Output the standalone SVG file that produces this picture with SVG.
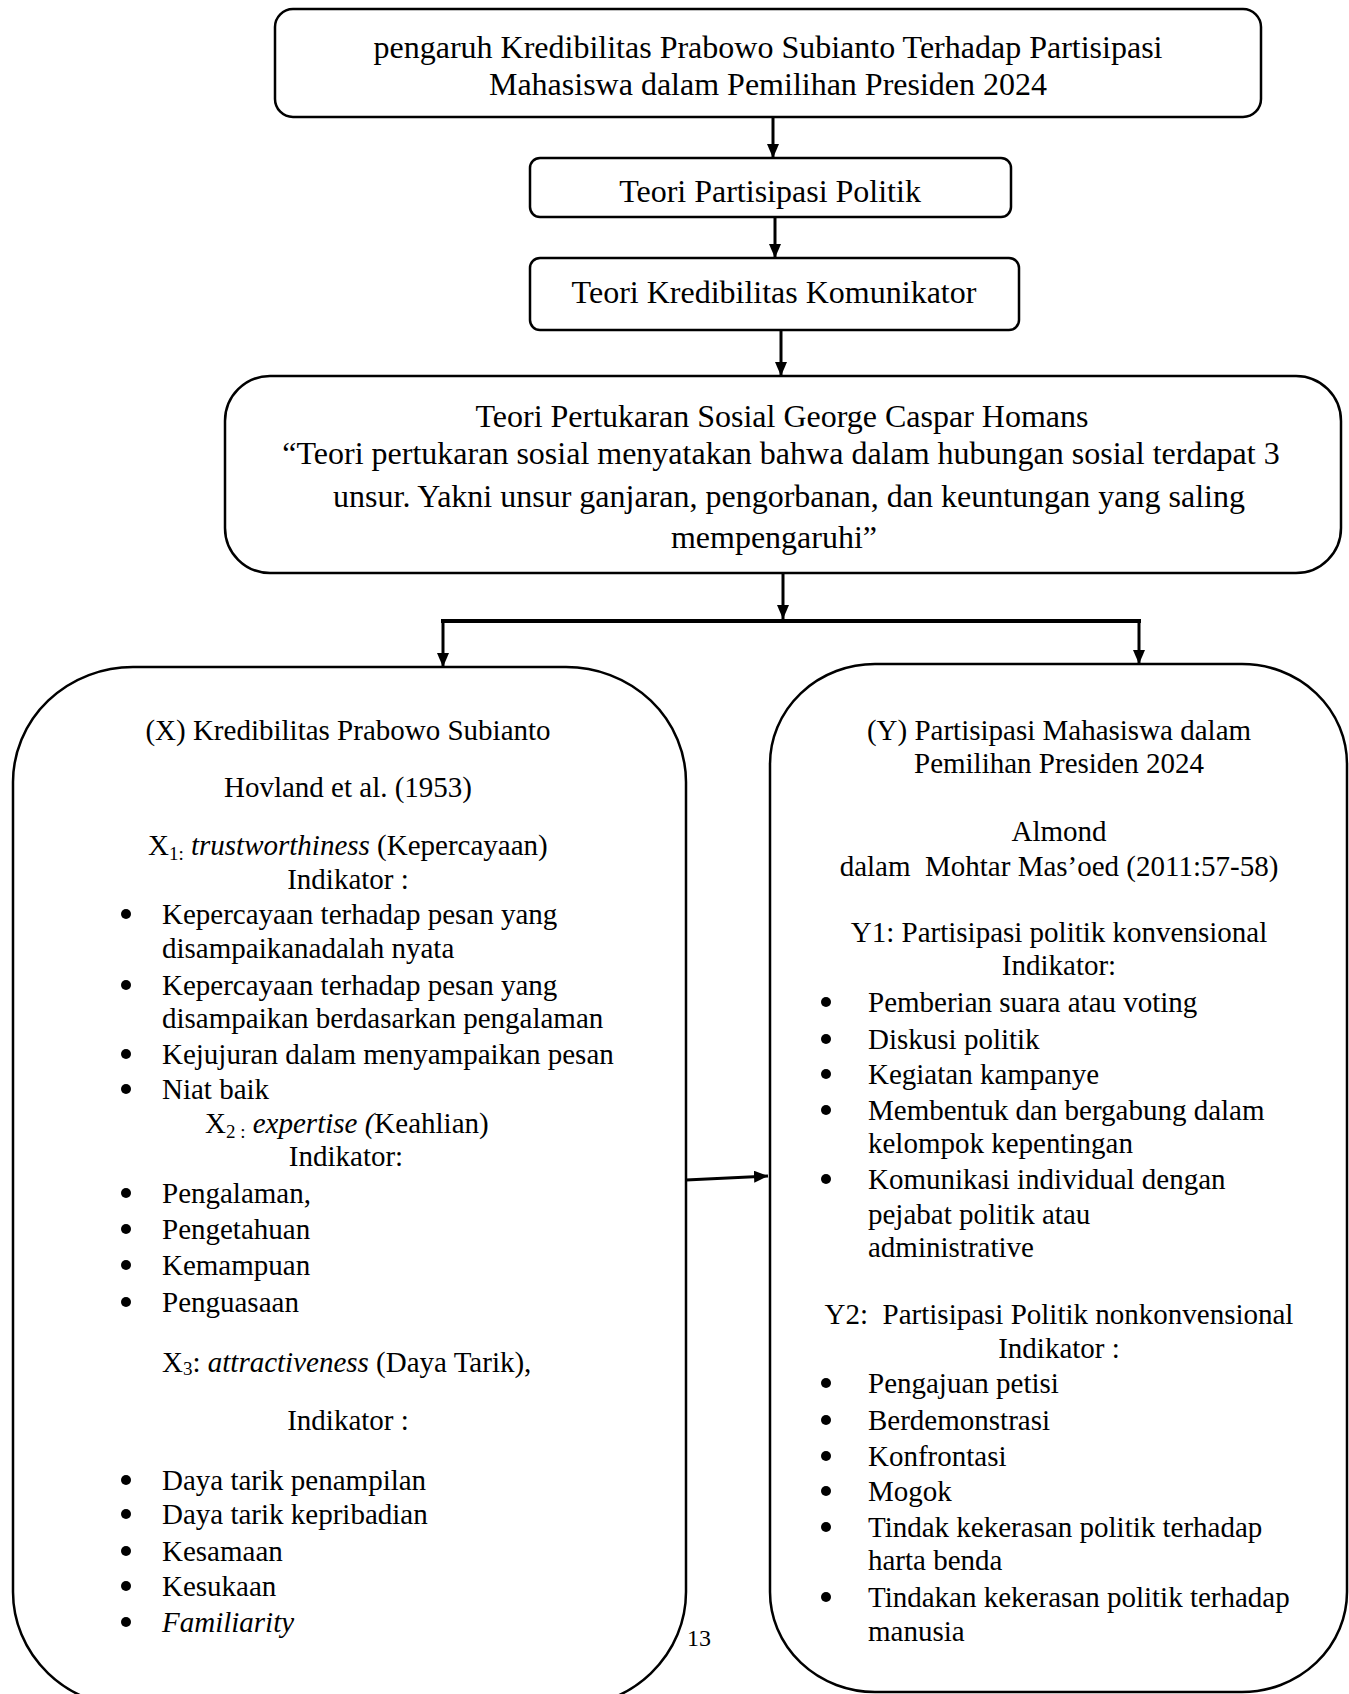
<svg xmlns="http://www.w3.org/2000/svg" width="1349" height="1694" viewBox="0 0 1349 1694">
<style>
.box{fill:#fff;stroke:#000;stroke-width:2.5}
.t{font-family:"Liberation Serif","Times New Roman",serif;fill:#000}
.h{font-size:32px}
.b{font-size:29px}
.c{text-anchor:middle}
.i{font-style:italic}
.sub{font-size:19px}
.con{fill:none;stroke:#000;stroke-width:3}
.bul{fill:#000}
</style>
<defs>
<marker id="ah" viewBox="0 0 14 12" refX="14" refY="6" markerWidth="14" markerHeight="12" orient="auto" markerUnits="userSpaceOnUse">
<path d="M0,0 L14,6 L0,12 z" fill="#000"/>
</marker>
</defs>
<rect width="1349" height="1694" fill="#fff"/>

<g id="connectors">
<path class="con" d="M773,117 L773,158" marker-end="url(#ah)"/>
<path class="con" d="M775,217 L775,258" marker-end="url(#ah)"/>
<path class="con" d="M781,330 L781,376" marker-end="url(#ah)"/>
<path class="con" d="M783,573 L783,619" marker-end="url(#ah)"/>
<path class="con" style="stroke-width:4" d="M441,621 L1141,621"/>
<path class="con" d="M443,621 L443,667" marker-end="url(#ah)"/>
<path class="con" d="M1139,621 L1139,664" marker-end="url(#ah)"/>
<path class="con" d="M686,1180 L768,1176" marker-end="url(#ah)"/>
</g>

<g id="node-title">
<rect class="box" x="275" y="9" width="986" height="108" rx="18"/>
<text class="t h c" x="768" y="58">pengaruh Kredibilitas Prabowo Subianto Terhadap Partisipasi</text>
<text class="t h c" x="768" y="95">Mahasiswa dalam Pemilihan Presiden 2024</text>
</g>

<g id="node-partisipasi">
<rect class="box" x="530" y="158" width="481" height="59" rx="10"/>
<text class="t h c" x="770" y="202">Teori Partisipasi Politik</text>
</g>

<g id="node-kredibilitas">
<rect class="box" x="530" y="258" width="489" height="72" rx="10"/>
<text class="t h c" x="774" y="303">Teori Kredibilitas Komunikator</text>
</g>

<g id="node-pertukaran">
<rect class="box" x="225" y="376" width="1116" height="197" rx="45"/>
<text class="t h c" x="782" y="427">Teori Pertukaran Sosial George Caspar Homans</text>
<text class="t h c" x="781" y="464">“Teori pertukaran sosial menyatakan bahwa dalam hubungan sosial terdapat 3</text>
<text class="t h c" x="789" y="507">unsur. Yakni unsur ganjaran, pengorbanan, dan keuntungan yang saling</text>
<text class="t h c" x="774" y="548">mempengaruhi”</text>
</g>

<g id="node-x">
<rect class="box" x="13" y="667" width="673" height="1040" rx="120" ry="115"/>
<text class="t b c" x="348" y="740">(X) Kredibilitas Prabowo Subianto</text>
<text class="t b c" x="348" y="797">Hovland et al. (1953)</text>
<text class="t b" x="148" y="855">X<tspan class="sub" dy="5">1:</tspan><tspan dy="-5" class="i"> trustworthiness</tspan> (Kepercayaan)</text>
<text class="t b c" x="348" y="889">Indikator :</text>
<circle class="bul" cx="126" cy="914" r="5"/>
<text class="t b" x="162" y="924">Kepercayaan terhadap pesan yang</text>
<text class="t b" x="162" y="958">disampaikanadalah nyata</text>
<circle class="bul" cx="126" cy="985" r="5"/>
<text class="t b" x="162" y="995">Kepercayaan terhadap pesan yang</text>
<text class="t b" x="162" y="1028">disampaikan berdasarkan pengalaman</text>
<circle class="bul" cx="126" cy="1054" r="5"/>
<text class="t b" x="162" y="1064">Kejujuran dalam menyampaikan pesan</text>
<circle class="bul" cx="126" cy="1089" r="5"/>
<text class="t b" x="162" y="1099">Niat baik</text>
<text class="t b" x="205" y="1133">X<tspan class="sub" dy="5">2 :</tspan><tspan dy="-5" class="i"> expertise (</tspan>Keahlian)</text>
<text class="t b c" x="346" y="1166">Indikator:</text>
<circle class="bul" cx="126" cy="1193" r="5"/>
<text class="t b" x="162" y="1203">Pengalaman,</text>
<circle class="bul" cx="126" cy="1229" r="5"/>
<text class="t b" x="162" y="1239">Pengetahuan</text>
<circle class="bul" cx="126" cy="1265" r="5"/>
<text class="t b" x="162" y="1275">Kemampuan</text>
<circle class="bul" cx="126" cy="1302" r="5"/>
<text class="t b" x="162" y="1312">Penguasaan</text>
<text class="t b" x="162" y="1372">X<tspan class="sub" dy="3">3</tspan><tspan dy="-3">: </tspan><tspan class="i">attractiveness</tspan> (Daya Tarik),</text>
<text class="t b c" x="348" y="1430">Indikator :</text>
<circle class="bul" cx="126" cy="1480" r="5"/>
<text class="t b" x="162" y="1490">Daya tarik penampilan</text>
<circle class="bul" cx="126" cy="1514" r="5"/>
<text class="t b" x="162" y="1524">Daya tarik kepribadian</text>
<circle class="bul" cx="126" cy="1551" r="5"/>
<text class="t b" x="162" y="1561">Kesamaan</text>
<circle class="bul" cx="126" cy="1586" r="5"/>
<text class="t b" x="162" y="1596">Kesukaan</text>
<circle class="bul" cx="126" cy="1622" r="5"/>
<text class="t b i" x="162" y="1632">Familiarity</text>
</g>

<g id="node-y">
<rect class="box" x="770" y="664" width="577" height="1028" rx="105" ry="100"/>
<text class="t b c" x="1059" y="740">(Y) Partisipasi Mahasiswa dalam</text>
<text class="t b c" x="1059" y="773">Pemilihan Presiden 2024</text>
<text class="t b c" x="1059" y="841">Almond</text>
<text class="t b c" x="1059" y="876" xml:space="preserve">dalam  Mohtar Mas’oed (2011:57-58)</text>
<text class="t b c" x="1059" y="942">Y1: Partisipasi politik konvensional</text>
<text class="t b c" x="1059" y="975">Indikator:</text>
<circle class="bul" cx="826" cy="1002" r="5"/>
<text class="t b" x="868" y="1012">Pemberian suara atau voting</text>
<circle class="bul" cx="826" cy="1039" r="5"/>
<text class="t b" x="868" y="1049">Diskusi politik</text>
<circle class="bul" cx="826" cy="1074" r="5"/>
<text class="t b" x="868" y="1084">Kegiatan kampanye</text>
<circle class="bul" cx="826" cy="1110" r="5"/>
<text class="t b" x="868" y="1120">Membentuk dan bergabung dalam</text>
<text class="t b" x="868" y="1153">kelompok kepentingan</text>
<circle class="bul" cx="826" cy="1179" r="5"/>
<text class="t b" x="868" y="1189">Komunikasi individual dengan</text>
<text class="t b" x="868" y="1224">pejabat politik atau</text>
<text class="t b" x="868" y="1257">administrative</text>
<text class="t b c" x="1059" y="1324" xml:space="preserve">Y2:  Partisipasi Politik nonkonvensional</text>
<text class="t b c" x="1059" y="1358">Indikator :</text>
<circle class="bul" cx="826" cy="1383" r="5"/>
<text class="t b" x="868" y="1393">Pengajuan petisi</text>
<circle class="bul" cx="826" cy="1420" r="5"/>
<text class="t b" x="868" y="1430">Berdemonstrasi</text>
<circle class="bul" cx="826" cy="1456" r="5"/>
<text class="t b" x="868" y="1466">Konfrontasi</text>
<circle class="bul" cx="826" cy="1491" r="5"/>
<text class="t b" x="868" y="1501">Mogok</text>
<circle class="bul" cx="826" cy="1527" r="5"/>
<text class="t b" x="868" y="1537">Tindak kekerasan politik terhadap</text>
<text class="t b" x="868" y="1570">harta benda</text>
<circle class="bul" cx="826" cy="1597" r="5"/>
<text class="t b" x="868" y="1607">Tindakan kekerasan politik terhadap</text>
<text class="t b" x="868" y="1641">manusia</text>
</g>

<g id="page-number">
<text class="t" style="font-size:24px" x="687" y="1646">13</text>
</g>
</svg>
